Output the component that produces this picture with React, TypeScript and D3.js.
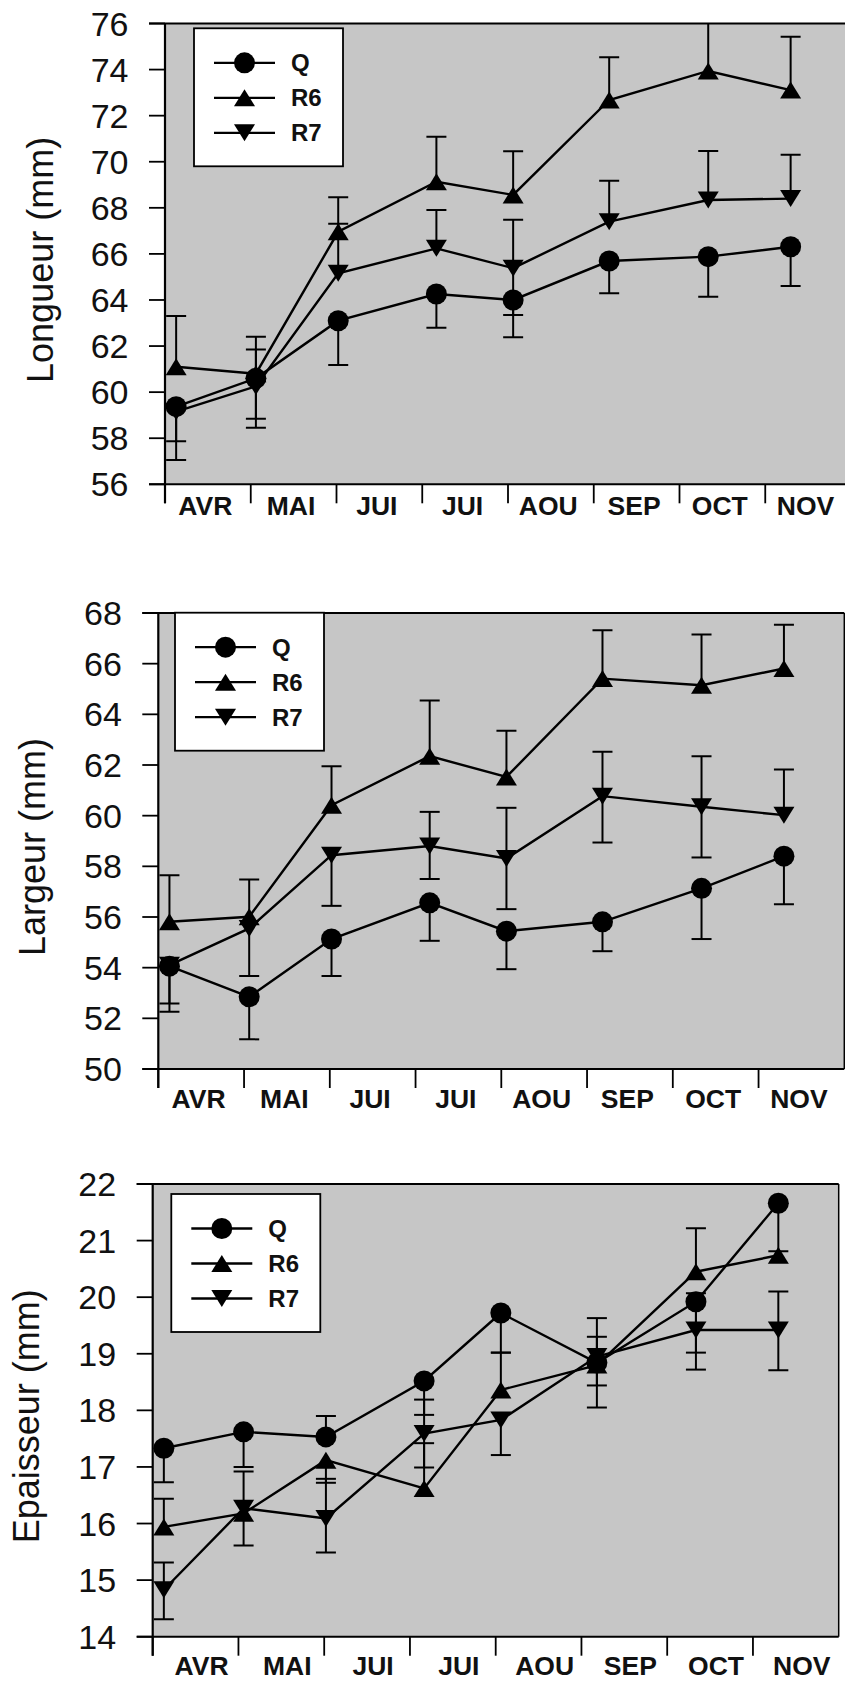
import React from 'react';
import * as d3 from 'd3';

// Month labels on the time axis and the sampling date of each campaign (in months since 1 April)
const monthLabels = ['AVR', 'MAI', 'JUI', 'JUI', 'AOU', 'SEP', 'OCT', 'NOV'];
const sampleMonth = [0.13, 1.06, 2.02, 3.165, 4.06, 5.18, 6.335, 7.296];
const seriesNames = ['Q', 'R6', 'R7'];

// Longueur (mm)
const longueurQ = [59.37, 60.6, 63.1, 64.26, 64.0, 65.69, 65.88, 66.31];
const longueurQUp = [0, 0, 0, 0, 0, 0, 0, 0];
const longueurQDown = [1.5, 1.75, 1.92, 1.46, 1.62, 1.4, 1.74, 1.7];
const longueurR6 = [61.1, 60.8, 66.96, 69.13, 68.56, 72.68, 73.94, 73.11];
const longueurR6Up = [2.2, 1.6, 1.5, 1.95, 1.9, 1.85, 2.1, 2.32];
const longueurR6Down = [0, 0, 0, 0, 0, 0, 0, 0];
const longueurR7 = [59.15, 60.25, 65.16, 66.24, 65.38, 67.4, 68.34, 68.4];
const longueurR7Up = [0, 1.6, 2.15, 1.66, 2.1, 1.78, 2.13, 1.9];
const longueurR7Down = [2.1, 1.8, 0, 0, 2.03, 0, 0, 0];

// Largeur (mm)
const largeurQ = [54.06, 52.85, 55.13, 56.56, 55.44, 55.81, 57.13, 58.4];
const largeurQUp = [0, 0, 0, 0, 0, 0, 0, 0];
const largeurQDown = [1.47, 1.68, 1.46, 1.5, 1.5, 1.16, 2.0, 1.9];
const largeurR6 = [55.81, 56.01, 60.41, 62.35, 61.53, 65.41, 65.15, 65.81];
const largeurR6Up = [1.84, 1.47, 1.54, 2.2, 1.82, 1.91, 2.0, 1.73];
const largeurR6Down = [0, 0, 0, 0, 0, 0, 0, 0];
const largeurR7 = [54.1, 55.55, 58.44, 58.8, 58.31, 60.77, 60.35, 60.02];
const largeurR7Up = [0, 0, 0, 1.35, 2.0, 1.75, 2.0, 1.8];
const largeurR7Down = [1.84, 1.88, 2.0, 1.3, 2.0, 1.83, 2.0, 0];

// Epaisseur (mm)
const epaisseurQ = [17.33, 17.62, 17.53, 18.52, 19.72, 18.84, 19.92, 21.66];
const epaisseurQUp = [0, 0, 0.37, 0, 0, 0, 0, 0];
const epaisseurQDown = [0.6, 0.62, 0, 0.6, 0.7, 0.4, 0.9, 0.85];
const epaisseurR6 = [15.94, 16.18, 17.12, 16.62, 18.36, 18.8, 20.45, 20.74];
const epaisseurR6Up = [0.5, 0.74, 0, 0.8, 0.66, 0.5, 0.77, 0];
const epaisseurR6Down = [0, 0, 0.4, 0, 0, 0, 0, 0];
const epaisseurR7 = [14.83, 16.27, 16.09, 17.59, 17.83, 18.95, 19.42, 19.42];
const epaisseurR7Up = [0.48, 0, 0.7, 0.6, 0, 0.68, 0.65, 0.68];
const epaisseurR7Down = [0.52, 0.66, 0.6, 0.6, 0.62, 0.9, 0.7, 0.71];

type Series = { name: string; values: number[]; up: number[]; down: number[] };
type PanelSpec = {
  title: string;
  domain: [number, number];
  step: number;
  series: Series[];
};

const panels: PanelSpec[] = [
  {
    title: 'Longueur (mm)',
    domain: [56, 76],
    step: 2,
    series: [
      { name: seriesNames[0], values: longueurQ, up: longueurQUp, down: longueurQDown },
      { name: seriesNames[1], values: longueurR6, up: longueurR6Up, down: longueurR6Down },
      { name: seriesNames[2], values: longueurR7, up: longueurR7Up, down: longueurR7Down },
    ],
  },
  {
    title: 'Largeur (mm)',
    domain: [50, 68],
    step: 2,
    series: [
      { name: seriesNames[0], values: largeurQ, up: largeurQUp, down: largeurQDown },
      { name: seriesNames[1], values: largeurR6, up: largeurR6Up, down: largeurR6Down },
      { name: seriesNames[2], values: largeurR7, up: largeurR7Up, down: largeurR7Down },
    ],
  },
  {
    title: 'Epaisseur (mm)',
    domain: [14, 22],
    step: 1,
    series: [
      { name: seriesNames[0], values: epaisseurQ, up: epaisseurQUp, down: epaisseurQDown },
      { name: seriesNames[1], values: epaisseurR6, up: epaisseurR6Up, down: epaisseurR6Down },
      { name: seriesNames[2], values: epaisseurR7, up: epaisseurR7Up, down: epaisseurR7Down },
    ],
  },
];

// Page placement of each panel
const layout = [
  { left: 165, top: 23.5, bottom: 484.3, legendX: 194, legendY: 28.3, labelShift: 0.47, labelDy: 31, titleX: 52.8 },
  { left: 158.3, top: 613, bottom: 1069, legendX: 175, legendY: 612.7, labelShift: 0.47, labelDy: 39, titleX: 44.8 },
  { left: 152.7, top: 1184, bottom: 1636.7, legendX: 171.3, legendY: 1194, labelShift: 0.57, labelDy: 38, titleX: 39.3 },
];

const MONTH_W = 85.75;
const FONT = "'Liberation Sans', Arial, Helvetica, sans-serif";
const PLOT_FILL = '#c6c6c6';

function Marker({ kind, x, y }: { kind: string; x: number; y: number }) {
  const hw = 10.5;
  const hh = 8.5;
  if (kind === 'Q') return <circle cx={x} cy={y} r={10.5} fill="#000" />;
  if (kind === 'R6')
    return <path d={`M${x},${y - hh}L${x + hw},${y + hh}L${x - hw},${y + hh}Z`} fill="#000" />;
  return <path d={`M${x},${y + hh}L${x + hw},${y - hh}L${x - hw},${y - hh}Z`} fill="#000" />;
}

function Panel({ spec, pos, idx }: { spec: PanelSpec; pos: (typeof layout)[number]; idx: number }) {
  const right = pos.left + 8 * MONTH_W;
  const x = d3.scaleLinear().domain([0, 8]).range([pos.left, right]);
  const y = d3.scaleLinear().domain(spec.domain).range([pos.bottom, pos.top]);
  const yTicks = d3.range(spec.domain[0], spec.domain[1] + spec.step / 2, spec.step);
  const xTicks = d3.range(0, 8);
  const line = d3
    .line<number>()
    .x((_, i) => x(sampleMonth[i]))
    .y((v) => y(v));
  const clipId = `plot-clip-${idx}`;
  const capHalf = 10;

  return (
    <g>
      <defs>
        <clipPath id={clipId}>
          <rect x={pos.left} y={pos.top} width={right - pos.left} height={pos.bottom - pos.top} />
        </clipPath>
      </defs>
      <rect x={pos.left} y={pos.top} width={right - pos.left} height={pos.bottom - pos.top} fill={PLOT_FILL} />

      {/* error bars */}
      <g clipPath={`url(#${clipId})`} stroke="#000" strokeWidth={2} fill="none">
        {spec.series.map((s) =>
          s.values.map((v, i) => {
            const cx = x(sampleMonth[i]);
            const parts: JSX.Element[] = [];
            if (s.up[i] > 0) {
              const yy = y(v + s.up[i]);
              parts.push(<line key={`u${i}`} x1={cx} x2={cx} y1={y(v)} y2={yy} />);
              parts.push(<line key={`uc${i}`} x1={cx - capHalf} x2={cx + capHalf} y1={yy} y2={yy} />);
            }
            if (s.down[i] > 0) {
              const yy = y(v - s.down[i]);
              parts.push(<line key={`d${i}`} x1={cx} x2={cx} y1={y(v)} y2={yy} />);
              parts.push(<line key={`dc${i}`} x1={cx - capHalf} x2={cx + capHalf} y1={yy} y2={yy} />);
            }
            return <g key={`${s.name}-${i}`}>{parts}</g>;
          })
        )}
      </g>

      {/* series lines */}
      {spec.series.map((s) => (
        <path key={s.name} d={line(s.values) || ''} fill="none" stroke="#000" strokeWidth={2.4} />
      ))}

      {/* markers */}
      {spec.series.map((s) =>
        s.values.map((v, i) => <Marker key={`${s.name}m${i}`} kind={s.name} x={x(sampleMonth[i])} y={y(v)} />)
      )}

      {/* frame and axes */}
      <line x1={right} x2={right} y1={pos.top} y2={pos.bottom} stroke="#000" strokeWidth={1.5} />
      <line x1={pos.left - 16} x2={right} y1={pos.top} y2={pos.top} stroke="#000" strokeWidth={1.8} />
      <line x1={pos.left - 16} x2={right} y1={pos.bottom} y2={pos.bottom} stroke="#000" strokeWidth={2} />
      <line x1={pos.left} x2={pos.left} y1={pos.top} y2={pos.bottom + 19} stroke="#000" strokeWidth={2.2} />

      {yTicks.map((t) => (
        <g key={`yt${t}`}>
          <line x1={pos.left - 16} x2={pos.left} y1={y(t)} y2={y(t)} stroke="#000" strokeWidth={1.8} />
          <text
            x={pos.left - 36.5}
            y={y(t) + 12}
            textAnchor="end"
            fontFamily={FONT}
            fontSize={34}
            fill="#111"
          >
            {t}
          </text>
        </g>
      ))}

      {xTicks.map((t) => (
        <line key={`xt${t}`} x1={x(t)} x2={x(t)} y1={pos.bottom} y2={pos.bottom + 19} stroke="#000" strokeWidth={1.8} />
      ))}
      {monthLabels.map((m, i) => (
        <text
          key={`xl${i}`}
          x={x(i + pos.labelShift)}
          y={pos.bottom + pos.labelDy}
          textAnchor="middle"
          fontFamily={FONT}
          fontWeight="bold"
          fontSize={26.5}
          fill="#111"
        >
          {m}
        </text>
      ))}

      <text
        transform={`translate(${pos.titleX},${(pos.top + pos.bottom) / 2 + 6}) rotate(-90)`}
        textAnchor="middle"
        fontFamily={FONT}
        fontSize={36}
        fill="#111"
      >
        {spec.title}
      </text>

      {/* legend */}
      <g transform={`translate(${pos.legendX},${pos.legendY})`}>
        <rect x={0} y={0} width={149} height={138} fill="#fff" stroke="#000" strokeWidth={1.8} />
        {spec.series.map((s, k) => {
          const ry = 34.5 + k * 35;
          return (
            <g key={`lg${s.name}`}>
              <line x1={20} x2={81} y1={ry} y2={ry} stroke="#000" strokeWidth={2.3} />
              <Marker kind={s.name} x={50.5} y={ry} />
              <text x={97} y={ry + 8.6} fontFamily={FONT} fontWeight="bold" fontSize={24} fill="#111">
                {s.name}
              </text>
            </g>
          );
        })}
      </g>
    </g>
  );
}

export default function App() {
  return (
    <svg
      width={845}
      height={1681}
      viewBox="0 0 845 1681"
      style={{ position: 'absolute', left: 0, top: 0, background: '#fff' }}
    >
      <rect x={0} y={0} width={845} height={1681} fill="#fff" />
      {panels.map((p, i) => (
        <Panel key={p.title} spec={p} pos={layout[i]} idx={i} />
      ))}
    </svg>
  );
}
